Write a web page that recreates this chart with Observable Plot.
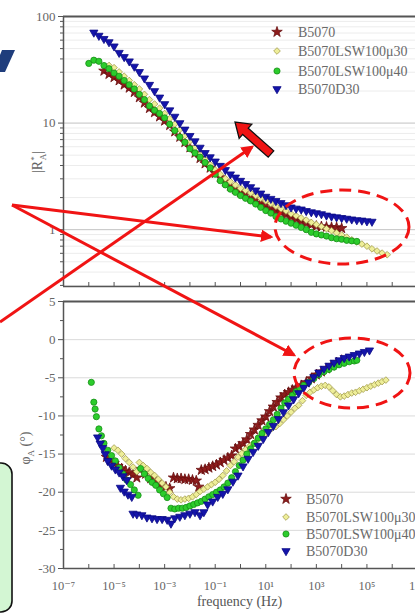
<!DOCTYPE html>
<html><head><meta charset="utf-8">
<script src="https://cdn.jsdelivr.net/npm/d3@7"></script>
<script src="https://cdn.jsdelivr.net/npm/@observablehq/plot@0.6"></script>
<style>
html,body{margin:0;padding:0;background:#fff;}
#wrap{position:relative;width:415px;height:615px;overflow:hidden;background:#fff;}
#wrap > svg{position:absolute;left:0;top:0;}
</style></head><body><div id="wrap"></div>
<script>
// ---------- data ----------
const seriesNames = ["B5070", "B5070LSW100μ30", "B5070LSW100μ40", "B5070D30"];
const xTickExponents = [-7, -5, -3, -1, 1, 3, 5, 7];
const xDecades = [1e-7,1e-6,1e-5,1e-4,1e-3,1e-2,1e-1,1,1e1,1e2,1e3,1e4,1e5,1e6,1e7];
const yTicksTop = [1, 10, 100];
const yMinorTop = [0.3,0.4,0.5,0.6,0.7,0.8,0.9,2,3,4,5,6,7,8,9,20,30,40,50,60,70,80,90];
const yTicksBottom = [-30, -25, -20, -15, -10, -5, 0, 5];
const yMinorBottom = [-27.5, -22.5, -17.5, -12.5, -7.5, -2.5, 2.5];

// top panel |R*A| : log10(frequency/Hz) grid and values
const topLogFreq = [-6.0,-5.8,-5.6,-5.4,-5.2,-5.0,-4.8,-4.6,-4.4,-4.2,-4.0,-3.8,-3.6,-3.4,-3.2,-3.0,-2.8,-2.6,-2.4,-2.2,-2.0,-1.8,-1.6,-1.4,-1.2,-1.0,-0.8,-0.6,-0.4,-0.2,0.0,0.2,0.4,0.6,0.8,1.0,1.2,1.4,1.6,1.8,2.0,2.2,2.4,2.6,2.8,3.0,3.2,3.4,3.6,3.8,4.0,4.2,4.4,4.6,4.8,5.0,5.2,5.4,5.6,5.8];
const topB5070 = [null,null,null,30.9,28.8,26.9,25.1,22.9,21.4,19.5,17.4,15.5,13.8,12.6,11.5,10.5,9.55,8.32,7.41,6.61,5.89,5.25,4.68,4.17,3.80,3.39,3.09,2.82,2.57,2.40,2.24,2.14,2.00,1.91,1.78,1.70,1.58,1.51,1.45,1.38,1.32,1.26,1.20,1.15,1.11,1.08,1.07,1.06,1.05,1.05,1.03,null,null,null,null,null,null,null,null,null];
const topLSW30 = [null,null,null,null,34.7,33.1,30.2,27.5,25.1,22.9,20.9,18.6,16.6,15.1,13.8,12.3,11.0,9.77,8.71,7.59,6.76,5.89,5.13,4.57,4.07,3.63,3.31,3.02,2.82,2.63,2.45,2.34,2.21,2.09,1.97,1.86,1.76,1.66,1.57,1.50,1.41,1.35,1.29,1.23,1.17,1.12,1.07,1.02,0.977,0.933,0.891,0.851,0.804,0.767,0.733,0.700,0.661,0.631,0.603,0.582];
const topLSW40 = [36.3,38.9,38.0,34.7,32.4,29.5,27.5,25.1,22.9,20.9,18.6,16.6,14.5,13.2,12.3,11.2,9.77,8.51,7.41,6.61,5.75,5.25,4.79,4.27,3.80,3.31,2.88,2.63,2.40,2.24,2.09,1.97,1.86,1.74,1.62,1.51,1.43,1.33,1.26,1.20,1.15,1.10,1.05,1.00,0.944,0.912,0.891,0.871,0.841,0.822,0.813,0.794,0.785,0.776,null,null,null,null,null,null];
const topD30 = [null,70.8,66.1,61.7,57.5,52.5,45.7,41.7,38.0,33.9,30.2,26.3,22.9,20.0,17.4,15.1,13.2,11.5,10.0,8.71,7.59,6.76,5.89,5.25,4.79,4.37,3.98,3.63,3.31,3.09,2.88,2.69,2.51,2.34,2.19,2.04,1.95,1.86,1.78,1.70,1.62,1.58,1.55,1.50,1.46,1.43,1.40,1.36,1.33,1.31,1.29,1.27,1.25,1.23,1.22,1.20,1.19,null,null,null];

// bottom panel phase (degrees): log10(frequency/Hz) and values per series
const botB5070LogFreq = [-5.3,-5.15,-5.0,-4.85,-4.7,-4.55,-4.4,-4.25,-4.1,-3.95,-3.75,-3.55,-3.35,-3.15,-2.95,-2.8,-2.65,-2.5,-2.35,-2.2,-2.05,-1.9,-1.75,-1.65,-1.55,-1.4,-1.25,-1.1,-0.95,-0.8,-0.65,-0.5,-0.35,-0.2,-0.05,0.1,0.25,0.4,0.55,0.7,0.85,1.0,1.15,1.3,1.45,1.6,1.75,1.9,2.05,2.2,2.4,2.6,2.8,3.0,3.2,3.4,3.6,3.8,4.0];
const botB5070Phi = [-15.4,-15.8,-16.2,-16.6,-16.9,-17.2,-17.4,-17.7,-18.1,-17.0,-17.6,-18.2,-18.6,-19.0,-19.3,-19.5,-18.1,-18.2,-18.2,-18.3,-18.3,-18.4,-18.5,-19.3,-17.1,-17.0,-16.8,-16.6,-16.4,-16.1,-15.8,-15.5,-15.2,-14.3,-14.0,-13.6,-13.1,-12.4,-11.8,-11.2,-10.6,-10.1,-9.4,-8.8,-8.2,-7.6,-7.2,-6.9,-6.6,-6.3,-6.0,-5.6,-5.1,-4.6,-4.2,-3.8,-3.4,-3.0,-2.7];
const botLSW30LogFreq = [-5.0,-4.85,-4.7,-4.55,-4.4,-4.25,-4.1,-4.0,-3.85,-3.7,-3.55,-3.4,-3.25,-3.1,-2.95,-2.8,-2.65,-2.5,-2.35,-2.2,-2.05,-1.9,-1.75,-1.6,-1.45,-1.3,-1.15,-1.0,-0.85,-0.7,-0.55,-0.4,-0.25,-0.1,0.05,0.2,0.35,0.5,0.65,0.8,0.95,1.1,1.25,1.4,1.55,1.7,1.85,2.0,2.15,2.3,2.45,2.6,2.75,2.9,3.05,3.2,3.35,3.5,3.65,3.8,3.95,4.1,4.25,4.4,4.55,4.7,4.85,5.0,5.15,5.3,5.45,5.6,5.75];
const botLSW30Phi = [-14.2,-14.5,-15.0,-15.6,-16.1,-16.7,-17.3,-16.1,-16.5,-16.9,-17.4,-17.8,-18.3,-18.8,-19.3,-20.0,-20.6,-20.9,-21.0,-20.9,-20.8,-20.6,-20.3,-19.9,-19.6,-19.3,-19.0,-18.7,-18.3,-17.8,-17.2,-16.5,-16.0,-15.4,-14.9,-14.4,-14.0,-13.6,-13.2,-12.8,-12.4,-12.0,-11.6,-11.4,-11.0,-10.5,-10.0,-9.5,-9.0,-8.6,-8.0,-7.3,-6.9,-6.6,-6.3,-6.1,-6.0,-6.2,-6.7,-7.2,-7.5,-7.4,-7.2,-7.0,-6.9,-6.7,-6.5,-6.3,-6.1,-5.9,-5.7,-5.5,-5.3];
const botLSW40LogFreq = [-5.9,-5.8,-5.75,-5.7,-5.6,-5.5,-5.4,-5.25,-5.1,-4.95,-4.8,-4.65,-4.5,-4.35,-4.2,-4.05,-3.95,-3.8,-3.65,-3.5,-3.35,-3.2,-3.05,-2.9,-2.75,-2.6,-2.45,-2.3,-2.15,-2.0,-1.85,-1.7,-1.55,-1.4,-1.25,-1.1,-0.95,-0.8,-0.65,-0.5,-0.35,-0.2,-0.05,0.1,0.25,0.4,0.55,0.7,0.85,1.0,1.15,1.3,1.45,1.6,1.75,1.9,2.05,2.2,2.35,2.5,2.7,2.9,3.1,3.3,3.5,3.7,3.9,4.1,4.3,4.5,4.6];
const botLSW40Phi = [-5.6,-8.2,-9.1,-10.1,-11.7,-12.6,-13.6,-14.5,-15.2,-15.9,-16.8,-17.6,-18.4,-19.0,-19.7,-20.4,-16.9,-17.6,-18.2,-18.7,-19.1,-19.7,-20.2,-20.7,-22.1,-22.2,-22.1,-22.1,-22.0,-21.8,-21.6,-21.4,-21.2,-20.9,-20.6,-20.3,-20.0,-19.7,-19.3,-18.8,-18.1,-17.3,-16.5,-15.8,-15.0,-14.3,-13.6,-12.9,-12.3,-11.7,-11.1,-10.5,-9.8,-9.0,-8.3,-7.8,-7.3,-6.8,-6.4,-6.0,-5.6,-5.1,-4.6,-4.2,-3.9,-3.6,-3.3,-3.1,-2.9,-2.8,-2.7];
const botD30LogFreq = [-5.65,-5.55,-5.45,-5.35,-5.25,-5.1,-4.95,-4.8,-4.65,-4.5,-4.75,-4.6,-4.45,-4.3,-4.25,-4.1,-3.9,-3.7,-3.5,-3.3,-3.1,-2.9,-2.75,-2.6,-2.4,-2.2,-2.0,-1.8,-1.6,-1.45,-1.3,-1.1,-0.9,-0.7,-0.5,-0.3,-0.1,0.1,0.3,0.5,0.7,0.9,1.1,1.3,1.5,1.7,1.9,2.1,2.3,2.5,2.7,2.9,3.1,3.3,3.5,3.7,3.9,4.1,4.3,4.5,4.7,4.9,5.1];
const botD30Phi = [-12.8,-13.6,-14.2,-15.0,-15.9,-16.5,-17.0,-17.4,-17.9,-18.4,-19.4,-19.9,-20.3,-20.6,-22.8,-22.9,-23.0,-23.3,-23.4,-23.5,-23.5,-23.6,-24.1,-23.4,-23.2,-23.0,-22.8,-22.6,-23.0,-22.6,-21.6,-21.2,-20.6,-20.2,-19.6,-18.6,-17.8,-16.6,-15.6,-14.7,-13.9,-13.0,-12.1,-11.3,-10.4,-9.5,-8.6,-7.8,-7.0,-6.3,-5.6,-4.9,-4.3,-3.8,-3.4,-3.0,-2.7,-2.4,-2.2,-2.0,-1.8,-1.6,-1.4];

// ---------- build tables ----------
const topSeries = [topB5070, topLSW30, topLSW40, topD30];
const topData = [];
topSeries.forEach((arr, s) => arr.forEach((v, i) => { if (v != null) topData.push({s: seriesNames[s], f: Math.pow(10, topLogFreq[i]), v}); }));
const botSeries = [[botB5070LogFreq, botB5070Phi],[botLSW30LogFreq, botLSW30Phi],[botLSW40LogFreq, botLSW40Phi],[botD30LogFreq, botD30Phi]];
const botData = [];
botSeries.forEach(([fr, ph], s) => { const n = Math.min(fr.length, ph.length); for (let i = 0; i < n; i++) botData.push({s: seriesNames[s], f: Math.pow(10, fr[i]), v: ph[i]}); });

// ---------- styles ----------
const triDown = {draw(ctx, size) { const y = -Math.sqrt(size / (Math.sqrt(3) * 3)); const s3 = Math.sqrt(3); ctx.moveTo(0, -y * 2); ctx.lineTo(-s3 * y, y); ctx.lineTo(s3 * y, y); ctx.closePath(); }};
const styles = [
  {symbol: "star", fill: "#8e1c1c", stroke: "#6a1010", r: 3.3},
  {symbol: "diamond2", fill: "#eeee98", stroke: "#a29c4c", r: 3.0},
  {symbol: "circle", fill: "#2ccc2c", stroke: "#168e16", r: 3.1},
  {symbol: triDown, fill: "#1414aa", stroke: "#0b0b86", r: 3.05}
];
const dotMarks = data => seriesNames.map((name, k) => Plot.dot(data.filter(d => d.s === name), {x: "f", y: "v", symbol: styles[k].symbol, r: styles[k].r, fill: styles[k].fill, stroke: styles[k].stroke, strokeWidth: 0.8}));

const supMap = {"-": "⁻", "0": "⁰", "1": "¹", "2": "²", "3": "³", "4": "⁴", "5": "⁵", "6": "⁶", "7": "⁷", "8": "⁸", "9": "⁹"};
const fmtPow = d => "10" + String(Math.round(Math.log10(d))).split("").map(c => supMap[c]).join("");
const axisCol = "#555";
const font = "'Liberation Serif', 'DejaVu Serif', serif";

const wrap = document.getElementById("wrap");

// ---------- top panel ----------
const topPlot = Plot.plot({
  width: 415, height: 300, marginTop: 16, marginBottom: 14, marginLeft: 63, marginRight: 0,
  style: {background: "transparent", fontFamily: font, fontSize: "13px", color: "#666"},
  x: {type: "log", domain: [1e-7, 1e7], range: [63, 417]},
  y: {type: "log", domain: [0.293, 100]},
  marks: [
    Plot.ruleY(yMinorTop, {stroke: "#ececec"}),
    Plot.ruleY([1, 10], {stroke: "#c2c2c2"}),
    Plot.axisY({ticks: yTicksTop, tickSize: 5, tickPadding: 3, tickFormat: d => String(d), stroke: axisCol, label: null}),
    Plot.axisY({ticks: yMinorTop, tickSize: 3, tickFormat: () => "", stroke: axisCol, label: null}),
    Plot.axisX({ticks: xDecades, tickSize: -4, tickFormat: () => "", stroke: axisCol, label: null}),
    ...dotMarks(topData),
    Plot.ruleY([100], {stroke: axisCol, strokeWidth: 2}),
    Plot.ruleY([0.293], {stroke: axisCol, strokeWidth: 1.5}),
    Plot.ruleX([1e-7], {stroke: axisCol, strokeWidth: 1.5})
  ]
});
wrap.appendChild(topPlot);

// ---------- bottom panel ----------
const botPlot = Plot.plot({
  width: 415, height: 615, marginTop: 301, marginBottom: 47, marginLeft: 63, marginRight: 0,
  style: {background: "transparent", fontFamily: font, fontSize: "13px", color: "#666"},
  x: {type: "log", domain: [1e-7, 1e7], range: [63, 417]},
  y: {domain: [-30, 5]},
  marks: [
    Plot.ruleY([-25, -20, -15, -10, -5, 0], {stroke: "#dadada"}),
    Plot.axisY({ticks: yTicksBottom, tickSize: 5, tickPadding: 3, tickFormat: d => String(d), stroke: axisCol, label: null}),
    Plot.axisY({ticks: yMinorBottom, tickSize: 3, tickFormat: () => "", stroke: axisCol, label: null}),
    Plot.axisX({ticks: xDecades, tickSize: -4, tickFormat: () => "", stroke: axisCol, label: null}),
    Plot.axisX({ticks: xTickExponents.map(e => Math.pow(10, e)), tickSize: 0, tickPadding: 13, tickFormat: fmtPow, fontSize: 12.5, label: null}),
    Plot.text(["frequency (Hz)"], {text: d => d, frameAnchor: "bottom", dy: 37, fontSize: 14, fill: "#555"}),
    ...dotMarks(botData),
    Plot.ruleY([5], {stroke: axisCol, strokeWidth: 2}),
    Plot.ruleY([-30], {stroke: axisCol, strokeWidth: 1.5}),
    Plot.ruleX([1e-7], {stroke: axisCol, strokeWidth: 1.5})
  ]
});
wrap.appendChild(botPlot);

// ---------- overlay: labels, legends, slide annotations ----------
const ov = d3.select(wrap).append("svg").attr("width", 415).attr("height", 615);
const red = "#f01414";
const defs = ov.append("defs");
defs.append("marker").attr("id", "ah").attr("viewBox", "0 0 10 10").attr("refX", 8).attr("refY", 5)
  .attr("markerWidth", 4.2).attr("markerHeight", 4.2).attr("orient", "auto")
  .append("path").attr("d", "M0,0 L10,5 L0,10 z").attr("fill", red);

// slide leftovers
ov.append("rect").attr("x", -20).attr("y", 463).attr("width", 32).attr("height", 149).attr("rx", 11)
  .attr("fill", "#d3f6d3").attr("stroke", "#111").attr("stroke-width", 1.6);
ov.append("path").attr("d", "M2,50 L15,50 L5,72 L0,72 L0,55 Z").attr("fill", "#1f3d7c");

// axis labels
const l1 = ov.append("text").attr("transform", "translate(42,162) rotate(-90)").attr("text-anchor", "middle")
  .attr("font-family", font).attr("font-size", 14).attr("fill", "#666");
l1.append("tspan").text("|R");
l1.append("tspan").attr("dy", -5).attr("font-size", 9).text("*");
l1.append("tspan").attr("dy", 9).attr("dx", -4).attr("font-size", 9).text("A");
l1.append("tspan").attr("dy", -4).text("|");
const l2 = ov.append("text").attr("transform", "translate(30,448) rotate(-90)").attr("text-anchor", "middle")
  .attr("font-family", font).attr("font-size", 14).attr("fill", "#666");
l2.append("tspan").text("φ");
l2.append("tspan").attr("dy", 4).attr("font-size", 9).text("A");
l2.append("tspan").attr("dy", -4).text(" (°)");

// legends
const legSym = [d3.symbolStar, d3.symbolDiamond2 || d3.symbolDiamond, d3.symbolCircle, triDown];
function legend(mx, tx, ys) {
  ys.forEach((y, k) => {
    ov.append("path").attr("transform", `translate(${mx},${y})`)
      .attr("d", d3.symbol(legSym[k], Math.PI * styles[k].r * styles[k].r)())
      .attr("fill", styles[k].fill).attr("stroke", styles[k].stroke).attr("stroke-width", 0.8);
    ov.append("text").attr("x", tx).attr("y", y).attr("dy", "0.35em").attr("font-family", font)
      .attr("font-size", 14).attr("fill", "#6a6a6a").text(seriesNames[k]);
  });
}
legend(277, 298, [32, 51, 71, 89]);
legend(286, 306, [499, 517, 534, 551]);

// red annotation lines with arrowheads
[[12,205,271,237],[12,205,294,355],[0,322,252,147]].forEach(([x1,y1,x2,y2]) => {
  ov.append("line").attr("x1", x1).attr("y1", y1).attr("x2", x2).attr("y2", y2)
    .attr("stroke", red).attr("stroke-width", 3).attr("marker-end", "url(#ah)");
});
// dashed ellipses
[[342,227,67,37],[352,373,58,35]].forEach(([cx,cy,rx,ry]) => {
  ov.append("ellipse").attr("cx", cx).attr("cy", cy).attr("rx", rx).attr("ry", ry)
    .attr("fill", "none").attr("stroke", red).attr("stroke-width", 3).attr("stroke-dasharray", "12,7");
});
// block arrow
function blockArrow(T, H, w, W, L) {
  const dx = H[0]-T[0], dy = H[1]-T[1], len = Math.hypot(dx, dy), ux = dx/len, uy = dy/len, nx = -uy, ny = ux;
  const B = [T[0]+ux*(len-L), T[1]+uy*(len-L)];
  const p = [[T[0]+nx*w,T[1]+ny*w],[B[0]+nx*w,B[1]+ny*w],[B[0]+nx*W,B[1]+ny*W],H,[B[0]-nx*W,B[1]-ny*W],[B[0]-nx*w,B[1]-ny*w],[T[0]-nx*w,T[1]-ny*w]];
  return "M" + p.map(q => q.join(",")).join("L") + "Z";
}
ov.append("path").attr("d", blockArrow([271,154],[235,122],4.2,9.5,14)).attr("fill", red).attr("stroke", "#111").attr("stroke-width", 1.3);
</script></body></html>
